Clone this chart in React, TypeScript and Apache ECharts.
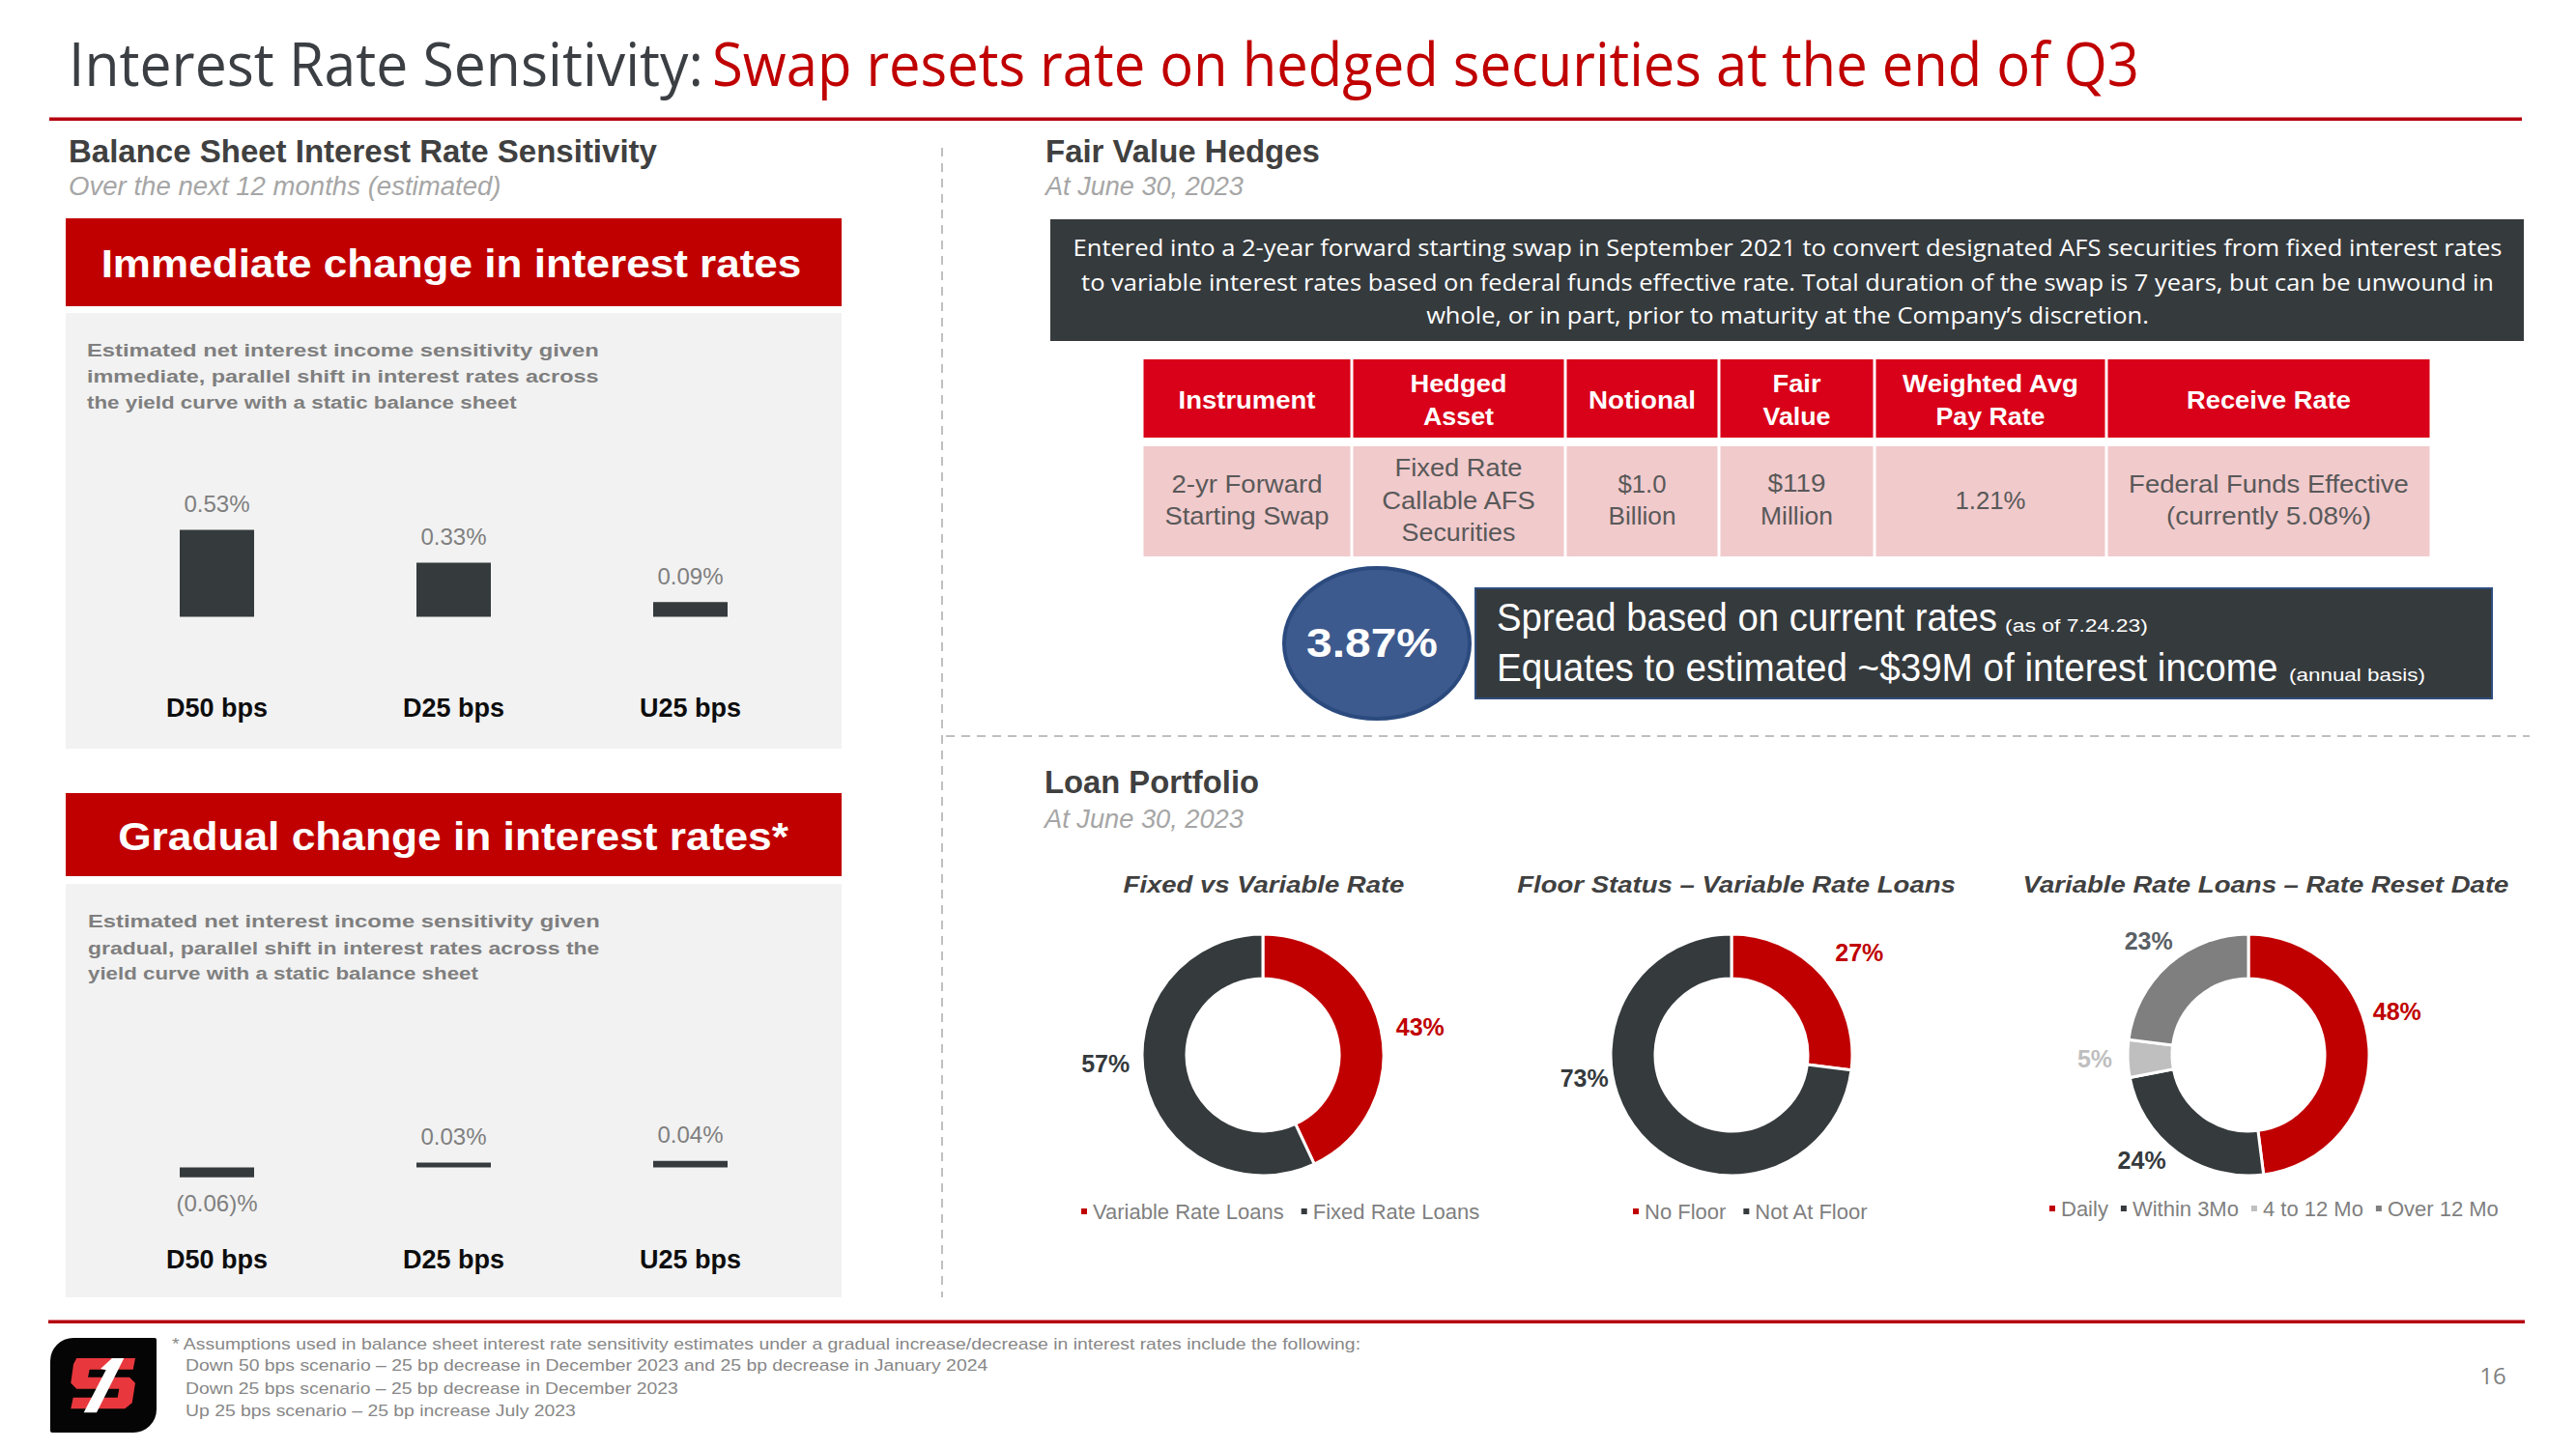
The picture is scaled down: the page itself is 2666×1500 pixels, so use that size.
import React, { useEffect, useRef } from "react";
import * as echarts from "echarts";

// ---------- data ----------
const scenarios = ["D50 bps", "D25 bps", "U25 bps"];
const immediateChange = [0.53, 0.33, 0.09];
const gradualChange = [-0.06, 0.03, 0.04];

const fixedVarNames = ["Variable Rate Loans", "Fixed Rate Loans"];
const fixedVarValues = [43, 57];
const floorNames = ["No Floor", "Not At Floor"];
const floorValues = [27, 73];
const resetNames = ["Daily", "Within 3Mo", "4 to 12 Mo", "Over 12 Mo"];
const resetValues = [48, 24, 5, 23];

const tableHeaders = [["Instrument"], ["Hedged", "Asset"], ["Notional"], ["Fair", "Value"], ["Weighted Avg", "Pay Rate"], ["Receive Rate"]];
const tableRow = [["2-yr Forward", "Starting Swap"], ["Fixed Rate", "Callable AFS", "Securities"], ["$1.0", "Billion"], ["$119", "Million"], ["1.21%"], ["Federal Funds Effective", "(currently 5.08%)"]];

const swapNote = [
  "Entered into a 2-year forward starting swap in September 2021 to convert designated AFS securities from fixed interest rates",
  "to variable interest rates based on federal funds effective rate. Total duration of the swap is 7 years, but can be unwound in",
  "whole, or in part, prior to maturity at the Company\u2019s discretion.",
];
const immediateDesc = [
  "Estimated net interest income sensitivity given",
  "immediate, parallel shift in interest rates across",
  "the yield curve with a static balance sheet",
];
const gradualDesc = [
  "Estimated net interest income sensitivity given",
  "gradual, parallel shift in interest rates across the",
  "yield curve with a static balance sheet",
];
const footnotes = [
  "* Assumptions used in balance sheet interest rate sensitivity estimates under a gradual increase/decrease in interest rates include the following:",
  "Down 50 bps scenario \u2013 25 bp decrease in December 2023 and 25 bp decrease in January 2024",
  "Down 25 bps scenario \u2013 25 bp decrease in December 2023",
  "Up 25 bps scenario \u2013 25 bp increase July 2023",
];

// ---------- style ----------
const SANS = "'Liberation Sans', Arial, Helvetica, sans-serif";
const CAL = "'Open Sans', 'Noto Sans', sans-serif";
const RED = "#c00000";
const DARK = "#353a3d";
const GRAYTXT = "#7f7f7f";

let measureCtx: CanvasRenderingContext2D | null = null;
function measure(text: string, font: string): number {
  if (!measureCtx) measureCtx = document.createElement("canvas").getContext("2d");
  if (!measureCtx) return text.length * 10;
  measureCtx.font = font;
  return measureCtx.measureText(text).width || 1;
}

function T(text: string, x: number, y: number, o: any) {
  const size = o.size;
  const weight = o.weight || "normal";
  const fstyle = o.italic ? "italic" : "normal";
  const family = o.family || SANS;
  const m = measure(text, `${fstyle} ${weight} ${size}px ${family}`);
  const sx = o.w ? o.w / m : 1;
  return {
    type: "text",
    x,
    y,
    scaleX: sx,
    z: 20,
    silent: true,
    style: {
      text,
      fill: o.color,
      fontSize: size,
      fontWeight: weight,
      fontStyle: fstyle,
      fontFamily: family,
      textAlign: o.align || "left",
      textVerticalAlign: "middle",
    },
  };
}

function R(x: number, y: number, w: number, h: number, fill: string, extra: any = {}) {
  return { type: "rect", z: 0, silent: true, shape: { x, y, width: w, height: h, r: extra.r || 0 }, style: { fill, stroke: extra.stroke, lineWidth: extra.lineWidth || 0 } };
}

function barLabel(p: any) {
  const v = typeof p.value === "number" ? p.value : p.value?.value;
  return v < 0 ? `(${Math.abs(v).toFixed(2)})%` : `${v.toFixed(2)}%`;
}

function buildGraphics() {
  const g: any[] = [];
  // title
  g.push(T("Interest Rate Sensitivity:", 71, 65, { size: 62, family: CAL, color: "#3b3f43", w: 657 }));
  g.push(T("Swap resets rate on hedged securities at the end of Q3", 737, 65, { size: 62, family: CAL, color: RED, w: 1478 }));
  g.push(R(51, 121.5, 2559, 3.5, "#b5000f"));

  // section headers
  g.push(T("Balance Sheet Interest Rate Sensitivity", 71, 156, { size: 33, weight: "bold", color: "#404040", w: 609 }));
  g.push(T("Over the next 12 months (estimated)", 71, 193, { size: 27, italic: true, color: "#a6a6a6", w: 448 }));
  g.push(T("Fair Value Hedges", 1082, 156, { size: 33, weight: "bold", color: "#404040", w: 284 }));
  g.push(T("At June 30, 2023", 1082, 193, { size: 27, italic: true, color: "#a6a6a6", w: 205 }));
  g.push(T("Loan Portfolio", 1081, 809, { size: 33, weight: "bold", color: "#404040", w: 222 }));
  g.push(T("At June 30, 2023", 1081, 848, { size: 27, italic: true, color: "#a6a6a6", w: 206 }));

  // dashed separators
  g.push({ type: "line", z: 1, silent: true, shape: { x1: 975, y1: 153, x2: 975, y2: 1343 }, style: { stroke: "#bfbfbf", lineWidth: 2, lineDash: [9, 7] } });
  g.push({ type: "line", z: 1, silent: true, shape: { x1: 979, y1: 762, x2: 2618, y2: 762 }, style: { stroke: "#bfbfbf", lineWidth: 2, lineDash: [9, 7] } });

  // left panels
  g.push(R(68, 226, 803, 91, RED));
  g.push(T("Immediate change in interest rates", 467, 273, { size: 41, weight: "bold", color: "#ffffff", w: 725, align: "center" }));
  g.push(R(68, 324, 803, 451, "#f2f2f2"));
  const d1y = [363, 390, 416];
  const d1w = [530, 530, 445];
  immediateDesc.forEach((s, i) => g.push(T(s, 90, d1y[i], { size: 19, weight: "bold", color: GRAYTXT, w: d1w[i] })));

  g.push(R(68, 821, 803, 86, RED));
  g.push(T("Gradual change in interest rates*", 469, 866, { size: 41, weight: "bold", color: "#ffffff", w: 694, align: "center" }));
  g.push(R(68, 915, 803, 428, "#f2f2f2"));
  const d2y = [954, 981, 1007];
  const d2w = [530, 530, 404];
  gradualDesc.forEach((s, i) => g.push(T(s, 91, d2y[i], { size: 19, weight: "bold", color: GRAYTXT, w: d2w[i] })));

  // swap note box
  g.push(R(1087, 227, 1525, 126, DARK));
  const nY = [256, 292, 326];
  const nW = [1480, 1462, 748];
  swapNote.forEach((s, i) => g.push(T(s, 1850, nY[i], { size: 24, family: CAL, color: "#ffffff", w: nW[i], align: "center" })));

  // table
  const edges = [1182, 1399, 1620, 1779, 1940, 2180, 2516];
  const hW = [[142], [100, 73], [111], [50, 70], [183, 113], [170]];
  const rW = [[156, 170], [132, 160, 118], [50, 70], [60, 75], [73], [290, 212]];
  for (let c = 0; c < 6; c++) {
    const x0 = edges[c] + 1.5;
    const x1 = edges[c + 1] - 1.5;
    const cx = (edges[c] + edges[c + 1]) / 2;
    g.push(R(x0, 372, x1 - x0, 81, "#d90019"));
    g.push(R(x0, 462, x1 - x0, 114, "#f1cacc"));
    const hs = tableHeaders[c];
    const hy = hs.length === 1 ? [414] : [397, 431];
    hs.forEach((s, i) => g.push(T(s, cx, hy[i], { size: 25, weight: "bold", color: "#ffffff", w: hW[c][i], align: "center" })));
    const rs = tableRow[c];
    const ry = rs.length === 1 ? [518] : rs.length === 2 ? [501, 534] : [484, 518, 551];
    rs.forEach((s, i) => g.push(T(s, cx, ry[i], { size: 25, color: "#595959", w: rW[c][i], align: "center" })));
  }

  // spread callout
  g.push(R(1527, 609, 1052, 114, DARK, { stroke: "#2e4d7c", lineWidth: 2 }));
  g.push({ type: "ellipse", z: 3, silent: true, shape: { cx: 1425, cy: 666, rx: 96, ry: 78 }, style: { fill: "#3d5a8e", stroke: "#2b4a7e", lineWidth: 4 } });
  g.push(T("3.87%", 1420, 666, { size: 42, weight: "bold", color: "#ffffff", w: 136, align: "center" }));
  g.push(T("Spread based on current rates", 1549, 639, { size: 40, color: "#ffffff", w: 518 }));
  g.push(T("(as of 7.24.23)", 2075, 647, { size: 18, color: "#ffffff", w: 148 }));
  g.push(T("Equates to estimated ~$39M of interest income", 1549, 691, { size: 40, color: "#ffffff", w: 809 }));
  g.push(T("(annual basis)", 2369, 699, { size: 18, color: "#ffffff", w: 141 }));

  // donut titles
  g.push(T("Fixed vs Variable Rate", 1308, 916, { size: 24, weight: "bold", italic: true, color: "#404040", w: 291, align: "center" }));
  g.push(T("Floor Status \u2013 Variable Rate Loans", 1797, 916, { size: 24, weight: "bold", italic: true, color: "#404040", w: 454, align: "center" }));
  g.push(T("Variable Rate Loans \u2013 Rate Reset Date", 2345, 916, { size: 24, weight: "bold", italic: true, color: "#404040", w: 503, align: "center" }));

  // footer
  g.push(R(50, 1366.5, 2563, 3.5, "#b5000f"));
  const fX = [178, 192, 192, 192];
  const fY = [1391, 1413, 1437, 1460];
  const fW = [1232, 831, 510, 404];
  footnotes.forEach((s, i) => g.push(T(s, fX[i], fY[i], { size: 17, color: "#878787", w: fW[i] })));
  g.push(T("16", 2580, 1423, { size: 24, family: CAL, color: GRAYTXT, align: "center" }));

  // logo
  g.push({ type: "rect", z: 1, silent: true, shape: { x: 52, y: 1385, width: 110, height: 98, r: [24, 2, 24, 2] }, style: { fill: "#050505" } });
  g.push({
    type: "polygon", z: 2, silent: true,
    shape: { points: [[79.3, 1406], [140, 1406], [137.7, 1417.7], [92.7, 1417.7], [91, 1425.7], [134, 1425.7], [140, 1431.7], [136.7, 1452.3], [129.3, 1458.3], [73.3, 1458.3], [75.7, 1446.7], [121.7, 1446.7], [123.3, 1437.7], [79.3, 1437.7], [73.3, 1431.7], [76, 1412.3]] },
    style: { fill: "#e8383d" },
  });
  g.push({ type: "polygon", z: 3, silent: true, shape: { points: [[116, 1406], [128.3, 1406], [100, 1462.3], [86.7, 1462.3]] }, style: { fill: "#ffffff" } });
  g.push({ type: "polygon", z: 3, silent: true, shape: { points: [[104, 1417], [116, 1406], [121, 1406], [114, 1419]] }, style: { fill: "#ffffff" } });
  return g;
}

function App() {
  const ref = useRef<HTMLDivElement>(null);
  useEffect(() => {
    if (!ref.current) return;
    const chart = echarts.init(ref.current, undefined, { renderer: "svg" });

    const catAxis = (margin: number, gridIndex: number) => ({
      type: "category",
      gridIndex,
      data: scenarios,
      axisLine: { show: false, onZero: false },
      axisTick: { show: false },
      splitLine: { show: false },
      axisLabel: { margin, fontSize: 27, fontWeight: "bold", color: "#0d0d0d", fontFamily: SANS },
    });
    const valAxis = (min: number, max: number, gridIndex: number) => ({
      type: "value", gridIndex, min, max, show: false, splitLine: { show: false },
    });
    const barLabelStyle = { show: true, position: "top", distance: 15, color: GRAYTXT, fontSize: 24, fontFamily: SANS, formatter: barLabel };

    const pieCommon = {
      type: "pie",
      radius: [79, 125],
      startAngle: 90,
      clockwise: true,
      avoidLabelOverlap: false,
      silent: true,
      emphasis: { disabled: true },
      itemStyle: { borderColor: "#ffffff", borderWidth: 3 },
      label: { show: true, position: "outside", formatter: "{c}%", fontSize: 25, fontWeight: "bold", fontFamily: SANS, distanceToLabelLine: 4 },
      labelLine: { show: false, length: 10, length2: 2 },
    };
    const mk = (names: string[], vals: number[], colors: string[], labelColors: string[]) =>
      names.map((n, i) => ({ name: n, value: vals[i], itemStyle: { color: colors[i] }, label: { color: labelColors[i] } }));
    // label nudges to mimic the original slide's label placement
    const nudge = (offs: number[][]) => (p: any) => {
      const o = offs[p.dataIndex] || [0, 0];
      return { dx: o[0], dy: o[1] };
    };

    const legendCommon = {
      orient: "horizontal",
      icon: "rect",
      itemWidth: 8,
      itemHeight: 8,
      itemGap: 16,
      padding: 0,
      selectedMode: false,
      textStyle: { fontSize: 22, color: GRAYTXT, fontFamily: SANS },
    };

    chart.setOption({
      animation: false,
      backgroundColor: "#ffffff",
      graphic: { elements: buildGraphics() },
      grid: [
        { left: 102, top: 502.5, width: 735, height: 136 },
        { left: 102, top: 1106.5, width: 735, height: 136 },
      ],
      xAxis: [catAxis(81, 0), catAxis(48, 1)],
      yAxis: [valAxis(0, 0.8, 0), valAxis(-0.2, 0.6, 1)],
      legend: [
        { ...legendCommon, data: fixedVarNames, left: 1117, top: 1243 },
        { ...legendCommon, data: floorNames, left: 1688, top: 1243 },
        { ...legendCommon, data: resetNames, left: 2119, top: 1240, itemGap: 11 },
      ],
      series: [
        {
          type: "bar", xAxisIndex: 0, yAxisIndex: 0, data: immediateChange, barWidth: 77, silent: true,
          itemStyle: { color: DARK }, label: barLabelStyle,
        },
        {
          type: "bar", xAxisIndex: 1, yAxisIndex: 1, barWidth: 77, silent: true,
          data: gradualChange.map((v) => ({ value: v, label: { position: v < 0 ? "bottom" : "top" } })),
          itemStyle: { color: DARK }, label: barLabelStyle,
        },
        {
          ...pieCommon, name: "Fixed vs Variable", center: [1307, 1092],
          data: mk(fixedVarNames, fixedVarValues, [RED, DARK], [RED, DARK]),
          labelLayout: nudge([[0, 0], [0, -20]]),
        },
        {
          ...pieCommon, name: "Floor Status", center: [1792, 1092],
          data: mk(floorNames, floorValues, [RED, DARK], [RED, DARK]),
          labelLayout: nudge([[0, -17], [-20, -65]]),
        },
        {
          ...pieCommon, name: "Rate Reset", center: [2327, 1092],
          data: mk(resetNames, resetValues, [RED, DARK, "#bfbfbf", "#7f7f7f"], [RED, DARK, "#bfbfbf", "#5a6065"]),
          labelLayout: nudge([[-12, -37], [0, 0], [0, 0], [17, -17]]),
        },
      ],
    });
    return () => chart.dispose();
  }, []);
  return <div ref={ref} style={{ position: "absolute", left: 0, top: 0, width: 2666, height: 1500 }} />;
}

export default App;
